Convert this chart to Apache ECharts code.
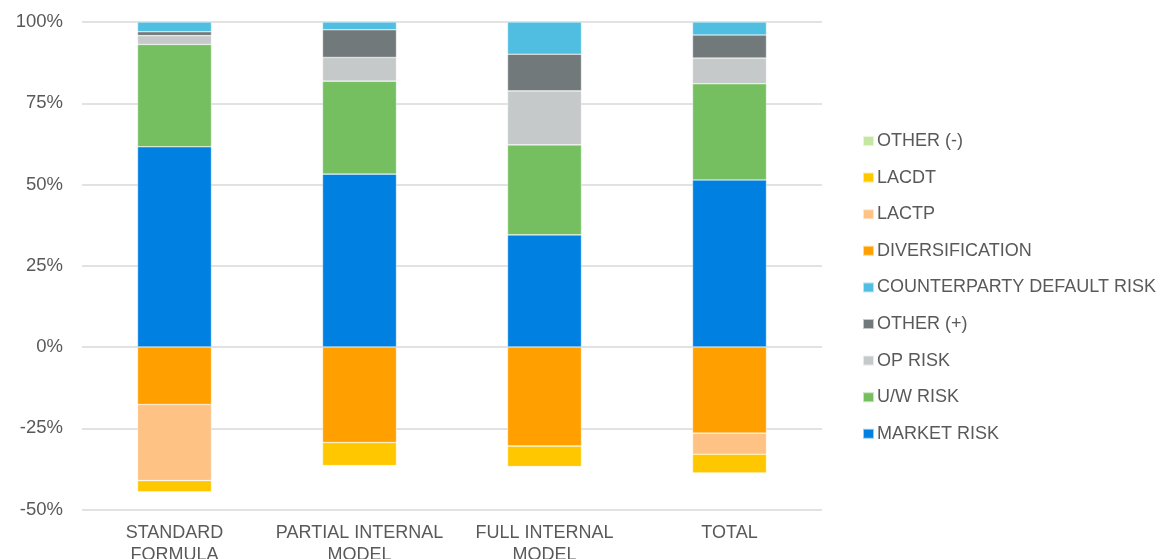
<!DOCTYPE html>
<html>
<head>
<meta charset="utf-8">
<script src="https://cdn.jsdelivr.net/npm/echarts@6/dist/echarts.min.js"></script>
<style>html,body{margin:0;padding:0;background:#fff;}#c{width:1172px;height:559px;}</style>
</head>
<body>
<div id="c"></div>
<script>
const categories = ['STANDARD\nFORMULA', 'PARTIAL INTERNAL\nMODEL', 'FULL INTERNAL\nMODEL', 'TOTAL'];
const marketRisk = [61.6, 53.2, 34.5, 51.4];
const uwRisk = [31.5, 28.6, 27.7, 29.6];
const opRisk = [2.7, 7.3, 16.6, 7.9];
const otherPlus = [1.2, 8.5, 11.3, 7.1];
const counterparty = [3.0, 2.4, 9.9, 4.0];
const diversification = [-17.7, -29.4, -30.5, -26.5];
const lactp = [-23.4, 0, 0, -6.5];
const lacdt = [-3.5, -7.1, -6.3, -5.8];
const otherMinus = [0, -0.2, 0, 0];
const yTicks = [-50, -25, 0, 25, 50, 75, 100];

const names = ['MARKET RISK','U/W RISK','OP RISK','OTHER (+)','COUNTERPARTY DEFAULT RISK','DIVERSIFICATION','LACTP','LACDT','OTHER (-)'];
const datas = [marketRisk, uwRisk, opRisk, otherPlus, counterparty, diversification, lactp, lacdt, otherMinus];
const colors = ['#0080E1','#75BF60','#C5C9C9','#71797B','#4FBEE1','#FFA000','#FFC285','#FFC700','#C3E6A0'];

const chart = echarts.init(document.getElementById('c'));
chart.setOption({
  animation: false,
  textStyle: { fontFamily: 'Liberation Sans, Arial, sans-serif' },
  grid: { left: 82, right: 350, top: 22, bottom: 49.5, outerBoundsMode: 'none', containLabel: false },
  legend: {
    orient: 'vertical',
    left: 862, top: 132, padding: 0,
    itemWidth: 11, itemHeight: 10, itemGap: 18.6,
    icon: 'rect',
    data: names.slice().reverse(),
    textStyle: { fontSize: 18, color: '#595959', lineHeight: 18, padding: [0, 0, 0, -2] }
  },
  xAxis: {
    type: 'category',
    data: categories,
    axisLine: { show: false },
    axisTick: { show: false },
    axisLabel: { fontSize: 18, color: '#595959', lineHeight: 21.5, margin: 13, interval: 0 }
  },
  yAxis: {
    type: 'value',
    min: yTicks[0], max: yTicks[yTicks.length - 1], interval: 25,
    axisLine: { show: false },
    axisTick: { show: false },
    splitLine: { lineStyle: { color: '#D9D9D9', width: 1.5 } },
    axisLabel: { fontSize: 18.5, color: '#595959', margin: 19, formatter: v => v + '%' }
  },
  series: names.map((n, i) => ({
    name: n,
    type: 'bar',
    stack: 'all',
    barWidth: 74,
    data: datas[i],
    itemStyle: { color: colors[i], borderColor: 'rgba(255,255,255,0.6)', borderWidth: 0.6 }
  }))
});
</script>
</body>
</html>
